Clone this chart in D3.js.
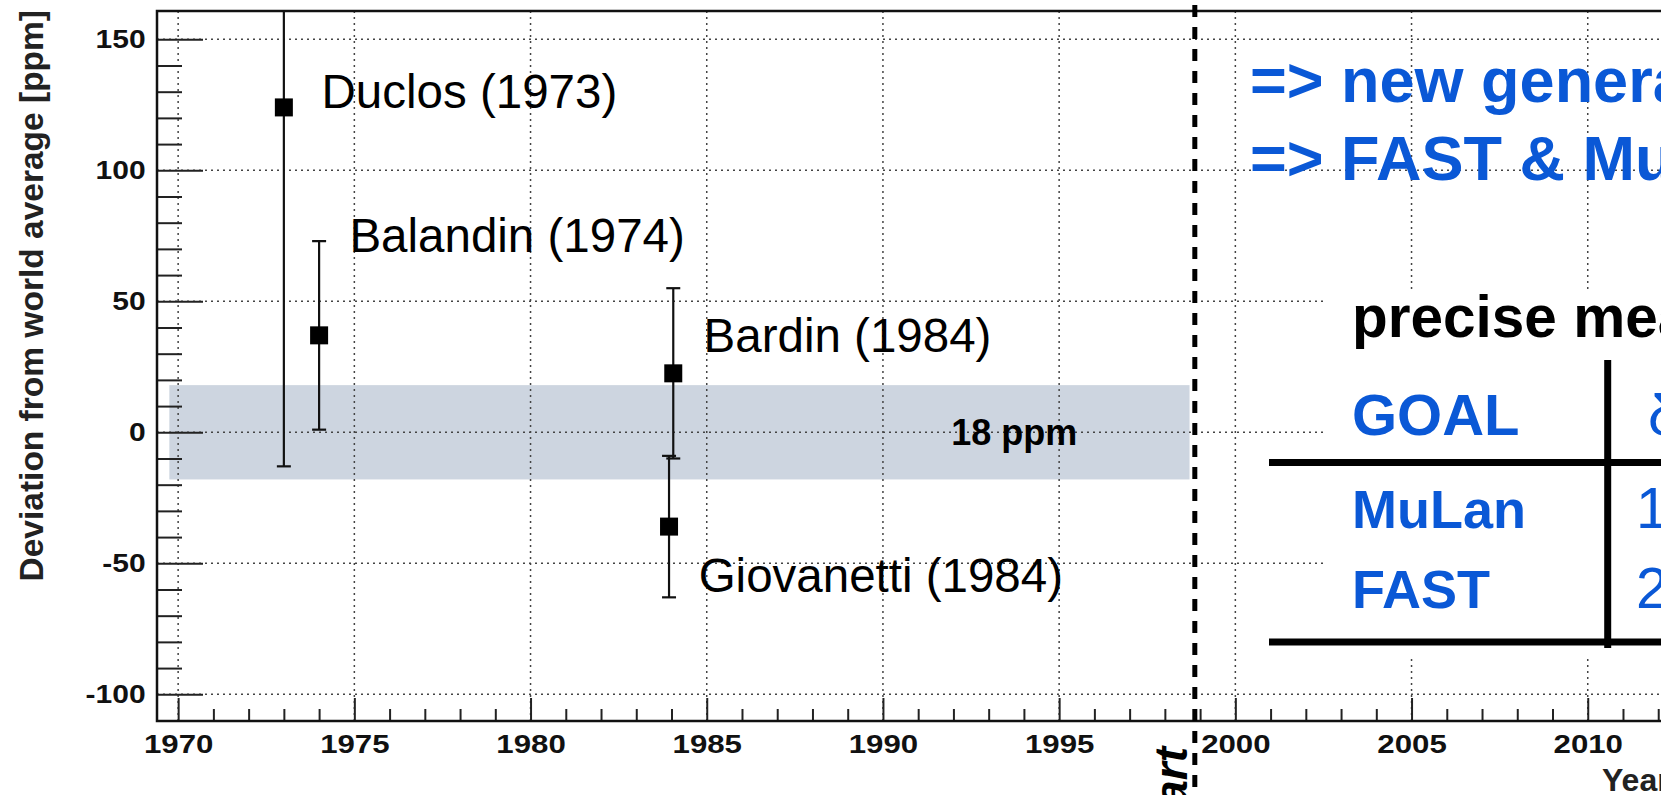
<!DOCTYPE html>
<html>
<head>
<meta charset="utf-8">
<script src="https://cdnjs.cloudflare.com/ajax/libs/d3/7.8.5/d3.min.js"></script>
<style>
  body { margin: 0; background: #fff; }
  svg { display: block; font-family: "Liberation Sans", Arial, Helvetica, sans-serif; }
  .grid line { stroke: #444; stroke-width: 1.5; stroke-dasharray: 2,4; }
  .axis text { font-weight: bold; fill: #111; }
  .axis line { stroke: #222; stroke-width: 2; }
  .axis path { display: none; }
  .blue { fill: #0a58d6; font-weight: bold; }
</style>
</head>
<body>
<svg id="chart" width="1661" height="795"></svg>
<script>
// measurements (deviation from world average, ppm)
var names = ["Duclos (1973)", "Balandin (1974)", "Bardin (1984)", "Giovanetti (1984)"];
var years = [1973, 1974, 1984.05, 1983.93];
var values = [124, 37, 22.5, -36];
var errors = [137, 36, 32.5, 27];
// label anchors in data units
var labelYears = [1974.07, 1974.86, 1984.91, 1984.77];
var labelPpm = [123.8, 68.9, 30.7, -60.9];

var yMajorTicks = [-100, -50, 0, 50, 100, 150];
var xMajorTicks = [1970, 1975, 1980, 1985, 1990, 1995, 2000, 2005, 2010];

var bandHalfWidth = 18;
var bandYears = [1969.75, 1998.7];
var startYear = 1998.85;

var dims = {left: 157, top: 11, height: 710, pxPerYear: 35.24};
var xDomain = [1969.4, 2014];
var yDomain = [-110.2, 160.8];

var xScale = d3.scaleLinear()
    .domain(xDomain)
    .range([dims.left, dims.left + (xDomain[1] - xDomain[0]) * dims.pxPerYear]);

var yScale = d3.scaleLinear()
    .domain(yDomain)
    .range([dims.top + dims.height, dims.top]);

var svg = d3.select("#chart");
var plotWidth = xScale.range()[1] - dims.left;

svg.append("clipPath").attr("id", "plotClip")
    .append("rect")
    .attr("x", dims.left).attr("y", dims.top)
    .attr("width", plotWidth).attr("height", dims.height);

// 18 ppm band
svg.append("rect")
    .attr("x", xScale(bandYears[0]))
    .attr("y", yScale(bandHalfWidth))
    .attr("width", xScale(bandYears[1]) - xScale(bandYears[0]))
    .attr("height", yScale(-bandHalfWidth) - yScale(bandHalfWidth))
    .attr("fill", "#cdd5e0");

// grid
var grid = svg.append("g").attr("class", "grid");
grid.selectAll(".gx").data(xMajorTicks).enter().append("line")
    .attr("x1", function(d) { return xScale(d); })
    .attr("x2", function(d) { return xScale(d); })
    .attr("y1", dims.top)
    .attr("y2", dims.top + dims.height);
grid.selectAll(".gy").data(yMajorTicks).enter().append("line")
    .attr("x1", dims.left)
    .attr("x2", dims.left + plotWidth)
    .attr("y1", function(d) { return yScale(d); })
    .attr("y2", function(d) { return yScale(d); });

svg.append("text")
    .attr("x", xScale(1991.94))
    .attr("y", yScale(-4.85))
    .attr("font-size", 36)
    .attr("font-weight", "bold")
    .text("18 ppm");

// axes (ROOT style: ticks inside, labels slightly stretched)
var yMinor = d3.range(-100, 151, 10).filter(function(d) { return d % 50 !== 0; });
var xMinor = d3.range(1970, 2014, 1).filter(function(d) { return d % 5 !== 0; });
var hyphenFormat = function(d) { return String(d); };

svg.append("g").attr("class", "axis")
    .attr("transform", "translate(" + dims.left + ",0)")
    .call(d3.axisLeft(yScale).tickValues(yMinor).tickFormat("").tickSize(-25));
svg.append("g").attr("class", "axis")
    .attr("transform", "translate(" + dims.left + ",0)")
    .call(d3.axisLeft(yScale).tickValues(yMajorTicks).tickFormat(hyphenFormat).tickSize(-46))
    .selectAll("text")
    .attr("font-size", 25)
    .attr("x", -9.5)
    .attr("transform", "scale(1.2,1)");

var xAxisY = dims.top + dims.height;
svg.append("g").attr("class", "axis")
    .attr("transform", "translate(0," + xAxisY + ")")
    .call(d3.axisBottom(xScale).tickValues(xMinor).tickFormat("").tickSize(-12));
svg.append("g").attr("class", "axis")
    .attr("transform", "translate(0," + xAxisY + ")")
    .call(d3.axisBottom(xScale).tickValues(xMajorTicks).tickFormat(hyphenFormat).tickSize(-23))
    .selectAll("text")
    .attr("font-size", 26)
    .attr("y", 32)
    .attr("dy", 0)
    .attr("transform", "scale(1.2,1)");

// frame
svg.append("rect")
    .attr("x", dims.left).attr("y", dims.top)
    .attr("width", plotWidth).attr("height", dims.height)
    .attr("fill", "none").attr("stroke", "#111").attr("stroke-width", 2.5);

// axis titles
svg.append("text")
    .attr("transform", "translate(43,10) rotate(-90)")
    .attr("text-anchor", "end")
    .attr("font-size", 33.5)
    .attr("font-weight", "bold")
    .attr("fill", "#222")
    .text("Deviation from world average [ppm]");

svg.append("text")
    .attr("x", 1602).attr("y", 791)
    .attr("font-size", 32)
    .attr("font-weight", "bold")
    .attr("fill", "#222")
    .text("Year");

// error bars and markers
var data = names.map(function(n, i) {
    return {name: n, year: years[i], value: values[i], err: errors[i], ly: labelYears[i], lp: labelPpm[i]};
});

var pts = svg.append("g").attr("clip-path", "url(#plotClip)");
pts.selectAll(".ebar").data(data).enter().append("line")
    .attr("x1", function(d) { return xScale(d.year); })
    .attr("x2", function(d) { return xScale(d.year); })
    .attr("y1", function(d) { return yScale(d.value + d.err); })
    .attr("y2", function(d) { return yScale(d.value - d.err); })
    .attr("stroke", "#111").attr("stroke-width", 2.2);

[1, -1].forEach(function(s) {
    pts.selectAll(".cap" + s).data(data).enter().append("line")
        .attr("x1", function(d) { return xScale(d.year) - 7; })
        .attr("x2", function(d) { return xScale(d.year) + 7; })
        .attr("y1", function(d) { return yScale(d.value + s * d.err); })
        .attr("y2", function(d) { return yScale(d.value + s * d.err); })
        .attr("stroke", "#111").attr("stroke-width", 2.2);
});

pts.selectAll(".marker").data(data).enter().append("rect")
    .attr("x", function(d) { return xScale(d.year) - 9; })
    .attr("y", function(d) { return yScale(d.value) - 9; })
    .attr("width", 18).attr("height", 18)
    .attr("fill", "#000");

svg.selectAll(".plabel").data(data).enter().append("text")
    .attr("x", function(d) { return xScale(d.ly); })
    .attr("y", function(d) { return yScale(d.lp); })
    .attr("font-size", 47.5)
    .text(function(d) { return d.name; });

// start of new generation
svg.append("line")
    .attr("x1", xScale(startYear)).attr("x2", xScale(startYear))
    .attr("y1", 5).attr("y2", 795)
    .attr("stroke", "#000").attr("stroke-width", 5)
    .attr("stroke-dasharray", "12,10");

svg.append("text")
    .attr("transform", "translate(" + (xScale(startYear) - 8) + ",747) rotate(-90)")
    .attr("text-anchor", "end")
    .attr("font-size", 46)
    .attr("font-weight", "bold")
    .attr("font-style", "italic")
    .text("Start");

// slide annotations
svg.append("text").attr("class", "blue")
    .attr("x", 1250).attr("y", 102).attr("font-size", 63)
    .text("=> new generation experiments");
svg.append("text").attr("class", "blue")
    .attr("x", 1250).attr("y", 180).attr("font-size", 63)
    .text("=> FAST & MuLan");

svg.append("rect")
    .attr("x", 1323).attr("y", 291).attr("width", 400).attr("height", 367)
    .attr("fill", "#fff");

svg.append("text")
    .attr("x", 1352).attr("y", 337).attr("font-size", 58.5).attr("font-weight", "bold")
    .text("precise measurements");

var rowNames = ["GOAL", "MuLan", "FAST"];
var rowValues = ["δτ/τ", "1 ppm", "2 ppm"];
var rowBaselines = [435, 528, 608];

svg.selectAll(".rowName").data(rowNames).enter().append("text")
    .attr("class", "blue")
    .attr("x", 1352)
    .attr("y", function(d, i) { return rowBaselines[i]; })
    .attr("font-size", function(d, i) { return i === 0 ? 58 : 54; })
    .text(function(d) { return d; });

svg.selectAll(".rowVal").data(rowValues).enter().append("text")
    .attr("x", function(d, i) { return i === 0 ? 1648 : 1636; })
    .attr("y", function(d, i) { return rowBaselines[i]; })
    .attr("font-size", 58)
    .attr("fill", "#0a58d6")
    .text(function(d) { return d; });

svg.append("line").attr("x1", 1607.7).attr("x2", 1607.7).attr("y1", 360).attr("y2", 648)
    .attr("stroke", "#000").attr("stroke-width", 7);
[462.5, 642].forEach(function(y) {
    svg.append("line").attr("x1", 1269).attr("x2", 1661).attr("y1", y).attr("y2", y)
        .attr("stroke", "#000").attr("stroke-width", 7);
});
</script>
</body>
</html>
